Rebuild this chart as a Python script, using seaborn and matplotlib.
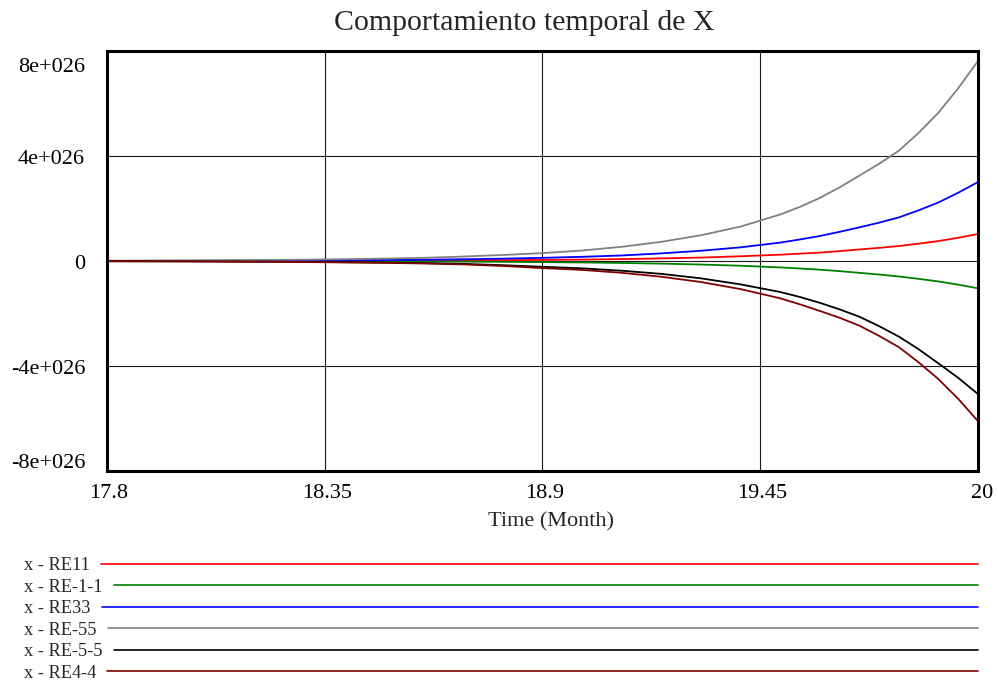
import numpy as np
import pandas as pd
import seaborn as sns
import matplotlib
matplotlib.use("Agg")
import matplotlib.pyplot as plt
from matplotlib.lines import Line2D

# ---------------- data (values in units of 1e26) ----------------
time = [17.8, 17.9, 18.0, 18.1, 18.2, 18.3, 18.4, 18.5, 18.6, 18.7, 18.8, 18.9,
        19.0, 19.1, 19.2, 19.3, 19.4, 19.5, 19.55, 19.6, 19.65, 19.7, 19.75,
        19.8, 19.85, 19.9, 19.95, 20.0]
series_names = ["x - RE11", "x - RE-1-1", "x - RE33", "x - RE-55", "x - RE-5-5", "x - RE4-4"]
re11 = [0.0014, 0.002, 0.003, 0.004, 0.005, 0.007, 0.009, 0.012, 0.016, 0.023, 0.031, 0.041,
        0.054, 0.073, 0.099, 0.13, 0.18, 0.24, 0.28, 0.32, 0.375, 0.44, 0.50,
        0.57, 0.66, 0.76, 0.885, 1.03]
re_1_1 = [-0.0015, -0.002, -0.003, -0.004, -0.005, -0.007, -0.009, -0.012, -0.017, -0.023, -0.032, -0.042,
          -0.056, -0.075, -0.10, -0.135, -0.18, -0.245, -0.285, -0.33, -0.385, -0.45, -0.515,
          -0.59, -0.68, -0.78, -0.90, -1.04]
re33 = [0.004, 0.006, 0.008, 0.012, 0.016, 0.02, 0.028, 0.036, 0.048, 0.067, 0.09, 0.12,
        0.16, 0.21, 0.29, 0.39, 0.52, 0.70, 0.82, 0.95, 1.11, 1.28, 1.46,
        1.66, 1.93, 2.23, 2.60, 3.01]
re_55 = [0.01, 0.015, 0.02, 0.03, 0.04, 0.05, 0.07, 0.09, 0.12, 0.17, 0.23, 0.30,
         0.40, 0.54, 0.73, 0.98, 1.31, 1.77, 2.06, 2.40, 2.80, 3.25, 3.70,
         4.20, 4.88, 5.65, 6.58, 7.62]
re_5_5 = [-0.007, -0.01, -0.013, -0.02, -0.026, -0.033, -0.046, -0.06, -0.08, -0.11, -0.16, -0.22,
          -0.28, -0.37, -0.49, -0.66, -0.89, -1.18, -1.37, -1.59, -1.84, -2.12, -2.48,
          -2.88, -3.36, -3.9, -4.45, -5.07]
re4_4 = [-0.008, -0.012, -0.016, -0.023, -0.03, -0.04, -0.054, -0.07, -0.095, -0.13, -0.19, -0.27,
         -0.34, -0.45, -0.60, -0.80, -1.07, -1.42, -1.65, -1.90, -2.16, -2.46, -2.85,
         -3.28, -3.86, -4.5, -5.25, -6.1]
UNIT = 1e26
colors = ["#ff0000", "#008000", "#0000ff", "#808080", "#000000", "#800000"]

x_ticks = [17.8, 18.35, 18.9, 19.45, 20.0]
x_tick_labels = ["17.8", "18.35", "18.9", "19.45", "20"]
y_ticks = [-8e26, -4e26, 0, 4e26, 8e26]
y_tick_labels = ["-8e+026", "-4e+026", "0", "4e+026", "8e+026"]

title = "Comportamiento temporal de X"
x_label = "Time (Month)"

# ---------------- build long table ----------------
all_vals = [re11, re_1_1, re33, re_55, re_5_5, re4_4]
rows = []
for name, vals in zip(series_names, all_vals):
    for t, v in zip(time, vals):
        rows.append({"Time": t, "x": v * UNIT, "series": name})
df = pd.DataFrame(rows)

sns.set_theme(style="white")
plt.rcParams["font.family"] = ["Liberation Serif", "DejaVu Serif"]

W, H = 998, 684
fig = plt.figure(figsize=(W / 100, H / 100), dpi=100)
ax = fig.add_axes([107 / W, 1 - 471 / H, 871 / W, 420 / H])

sns.lineplot(data=df, x="Time", y="x", hue="series", hue_order=series_names,
             palette=dict(zip(series_names, colors)), ax=ax, legend=False,
             linewidth=1.3, estimator=None, sort=False)

ax.set_xlim(17.8, 20.0)
ax.set_ylim(-8e26, 8e26)
ax.set_xticks(x_ticks)
ax.set_yticks(y_ticks)
ax.set_xticklabels([])
ax.set_yticklabels([])
ax.tick_params(length=0)
ax.grid(True, color="#1a1a1a", linewidth=0.8)
ax.set_axisbelow(True)
for s in ax.spines.values():
    s.set_linewidth(2.2)
    s.set_color("black")
ax.set_xlabel("")
ax.set_ylabel("")
ax.yaxis.get_offset_text().set_visible(False)

PX = 0.72  # px -> points
for v, lab in zip(y_ticks, y_tick_labels):
    dy = -3
    if v == max(y_ticks):
        dy = -17
    elif v == min(y_ticks):
        dy = 8
    ax.annotate(lab, xy=(0, v), xycoords=ax.get_yaxis_transform(),
                xytext=(-22 * PX, dy * PX), textcoords="offset points",
                ha="right", va="center", fontsize=16, color="black")

for v, lab in zip(x_ticks, x_tick_labels):
    dx = 4 if v == max(x_ticks) else 2
    ax.annotate(lab, xy=(v, 0), xycoords=ax.get_xaxis_transform(),
                xytext=(dx * PX, -13 * PX), textcoords="offset points",
                ha="center", va="top", fontsize=16, color="black")

fig.text(551 / W, 1 - 522 / H, x_label, ha="center", va="center", fontsize=16)
fig.text(524 / W, 1 - 23 / H, title, ha="center", va="center", fontsize=21.5)

# legend rows
texts = []
for i, name in enumerate(series_names):
    y = 564 + i * 21.4
    t = fig.text(24 / W, 1 - (y + 2) / H, name, ha="left", va="center", fontsize=13.2)
    texts.append((t, y))
fig.canvas.draw()
r = fig.canvas.get_renderer()
for (t, y), c in zip(texts, colors):
    bb = t.get_window_extent(renderer=r)
    x0 = bb.x1 + 11
    fig.add_artist(Line2D([x0 / W, 978 / W], [1 - y / H, 1 - y / H],
                          transform=fig.transFigure, color=c, linewidth=1.2))

fig.savefig("out.png", dpi=100)
